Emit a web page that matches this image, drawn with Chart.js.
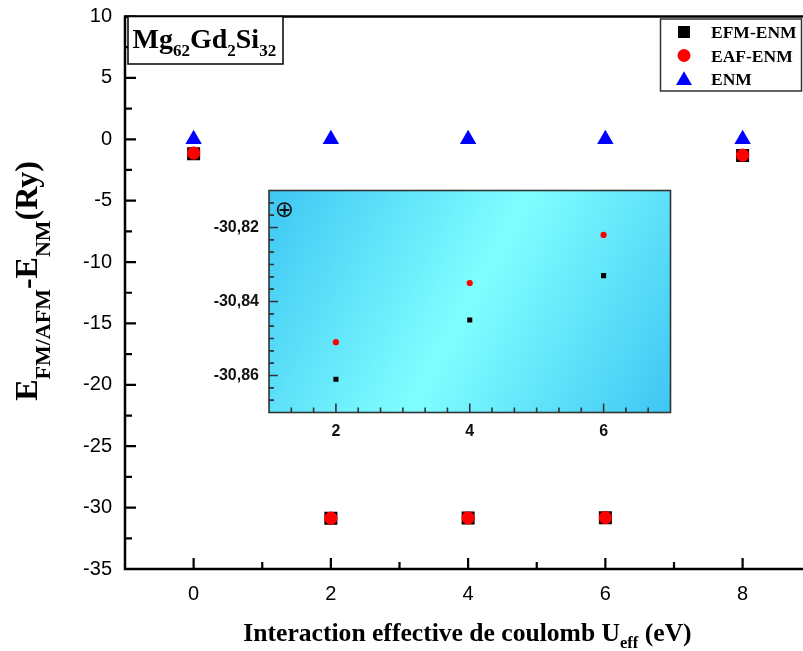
<!DOCTYPE html>
<html>
<head>
<meta charset="utf-8">
<script src="https://cdn.jsdelivr.net/npm/chart.js@4.4.1/dist/chart.umd.min.js"></script>
<style>
  html, body { margin: 0; padding: 0; background: #fff; overflow: hidden; }
  #wrap { position: relative; width: 803px; height: 651px; }
  #main { position: absolute; left: 0; top: 0; }
  #inset { position: absolute; left: 200px; top: 180px; }
</style>
</head>
<body>
<div id="wrap">
  <canvas id="main" width="803" height="651"></canvas>
  <canvas id="inset" width="490" height="280"></canvas>
</div>
<script>
// Hubbard U values (eV) and energy differences (Ry)
const uValues = [0, 2, 4, 6, 8];
const efmEnm  = [-1.17, -30.861, -30.845, -30.833, -1.33];
const eafEnm  = [-1.12, -30.851, -30.835, -30.822, -1.29];
const enm     = [0, 0, 0, 0, 0];
const seriesNames = ['EFM-ENM', 'EAF-ENM', 'ENM'];

// Main axes ticks
const mainXTicks = [0, 2, 4, 6, 8];
const mainXMinor = [1, 3, 5, 7];
const mainYTicks = [-35, -30, -25, -20, -15, -10, -5, 0, 5, 10];
const mainYMinor = [-32.5, -27.5, -22.5, -17.5, -12.5, -7.5, -2.5, 2.5, 7.5];

// Zoomed view of U = 2, 4, 6
const insetIdx = [1, 2, 3];
const insetXTicks = [2, 4, 6];
const insetYTicks = [-30.86, -30.84, -30.82];

const SERIF = '"Liberation Serif", "Times New Roman", serif';
const SANS = '"Liberation Sans", Arial, sans-serif';

function pts(xs, ys) { return xs.map((x, i) => ({ x: x, y: ys[i] })); }

// keep the plot area exactly where the layout padding puts it
function noScalePadding(s) {
  s.paddingTop = 0; s.paddingBottom = 0; s.paddingLeft = 0; s.paddingRight = 0;
}

// draws a run of text pieces (normal / subscript) starting at x, baseline y
function drawRich(ctx, parts, x, y) {
  let cx = x;
  parts.forEach(p => {
    ctx.font = p.font;
    ctx.fillText(p.t, cx, y + (p.dy || 0));
    cx += ctx.measureText(p.t).width;
  });
  return cx - x;
}
function richWidth(ctx, parts) {
  let w = 0;
  parts.forEach(p => { ctx.font = p.font; w += ctx.measureText(p.t).width; });
  return w;
}

function marker(ctx, style, x, y, r, color) {
  ctx.save();
  ctx.fillStyle = color;
  ctx.beginPath();
  if (style === 'rect') {
    const s = r * Math.SQRT1_2;
    ctx.rect(x - s, y - s, 2 * s, 2 * s);
  } else if (style === 'circle') {
    ctx.arc(x, y, r, 0, Math.PI * 2);
  } else {
    ctx.moveTo(x, y - r);
    ctx.lineTo(x + r * Math.sin(Math.PI * 2 / 3), y - r * Math.cos(Math.PI * 2 / 3));
    ctx.lineTo(x + r * Math.sin(Math.PI * 4 / 3), y - r * Math.cos(Math.PI * 4 / 3));
    ctx.closePath();
  }
  ctx.fill();
  ctx.restore();
}

// ---------- main chart ----------
const mainFrame = {
  id: 'mainFrame',
  beforeDatasetsDraw(chart) {
    const { ctx, chartArea: a, scales: { x, y } } = chart;
    ctx.save();
    ctx.strokeStyle = '#000';
    ctx.lineWidth = 2.5;
    ctx.lineCap = 'butt';
    ctx.beginPath();
    ctx.moveTo(a.right + 2, a.top);
    ctx.lineTo(a.left, a.top);
    ctx.lineTo(a.left, a.bottom);
    ctx.lineTo(a.right + 2, a.bottom);
    ctx.stroke();
    ctx.lineWidth = 2.2;
    ctx.beginPath();
    mainXTicks.forEach(v => { const px = x.getPixelForValue(v); ctx.moveTo(px, a.bottom); ctx.lineTo(px, a.bottom - 11); });
    mainXMinor.forEach(v => { const px = x.getPixelForValue(v); ctx.moveTo(px, a.bottom); ctx.lineTo(px, a.bottom - 7); });
    mainYTicks.forEach(v => { const py = y.getPixelForValue(v); ctx.moveTo(a.left, py); ctx.lineTo(a.left + 11, py); });
    mainYMinor.forEach(v => { const py = y.getPixelForValue(v); ctx.moveTo(a.left, py); ctx.lineTo(a.left + 7, py); });
    ctx.stroke();
    ctx.restore();
  },
  afterDraw(chart) {
    const { ctx } = chart;
    ctx.save();
    ctx.fillStyle = '#000';
    ctx.textBaseline = 'alphabetic';
    ctx.textAlign = 'left';

    // x axis title
    const xt = [
      { t: 'Interaction effective de coulomb U', font: 'bold 25.6px ' + SERIF },
      { t: 'eff', font: 'bold 16.5px ' + SERIF, dy: 7 },
      { t: ' (eV)', font: 'bold 25.6px ' + SERIF }
    ];
    const xw = richWidth(ctx, xt);
    drawRich(ctx, xt, 467.5 - xw / 2, 641);

    // y axis title
    const yt = [
      { t: 'E', font: 'bold 32px ' + SERIF },
      { t: 'FM/AFM', font: 'bold 22px ' + SERIF, dy: 13 },
      { t: '-E', font: 'bold 32px ' + SERIF },
      { t: 'NM', font: 'bold 22px ' + SERIF, dy: 13 },
      { t: '(Ry)', font: 'bold 32px ' + SERIF }
    ];
    const yw = richWidth(ctx, yt);
    ctx.save();
    ctx.translate(37, 281);
    ctx.rotate(-Math.PI / 2);
    drawRich(ctx, yt, -yw / 2, 0);
    ctx.restore();

    // compound label box
    ctx.lineWidth = 1.5;
    ctx.strokeStyle = '#000';
    ctx.fillStyle = '#fff';
    ctx.fillRect(128, 16.5, 155, 47.5);
    ctx.strokeRect(128, 16.5, 155, 47.5);
    ctx.fillStyle = '#000';
    drawRich(ctx, [
      { t: 'Mg', font: 'bold 28px ' + SERIF },
      { t: '62', font: 'bold 17px ' + SERIF, dy: 8 },
      { t: 'Gd', font: 'bold 28px ' + SERIF },
      { t: '2', font: 'bold 17px ' + SERIF, dy: 8 },
      { t: 'Si', font: 'bold 28px ' + SERIF },
      { t: '32', font: 'bold 17px ' + SERIF, dy: 8 }
    ], 132.5, 48);

    // legend
    ctx.fillStyle = '#fff';
    ctx.fillRect(660.5, 19, 141, 72);
    ctx.strokeStyle = '#333';
    ctx.strokeRect(660.5, 19, 141, 72);
    const rows = [32, 55.5, 79];
    chart.data.datasets.forEach((ds, i) => {
      const r = ds.legendRadius;
      marker(ctx, ds.pointStyle, 684, rows[i] + (ds.pointStyle === 'triangle' ? 1.5 : 0), r, ds.backgroundColor);
      ctx.fillStyle = '#000';
      ctx.font = 'bold 17.5px ' + SERIF;
      ctx.fillText(ds.label, 711, rows[i] + 6);
    });
    ctx.restore();
  }
};

const mainChart = new Chart(document.getElementById('main'), {
  type: 'scatter',
  data: {
    datasets: [
      { label: seriesNames[0], data: pts(uValues, efmEnm), pointStyle: 'rect', pointRadius: 9.2, legendRadius: 8.5,
        backgroundColor: '#000000', borderColor: '#000000', borderWidth: 0, order: 2 },
      { label: seriesNames[1], data: pts(uValues, eafEnm), pointStyle: 'circle', pointRadius: 6.6, legendRadius: 6.5,
        backgroundColor: '#ff0000', borderColor: '#ff0000', borderWidth: 0, order: 1 },
      { label: seriesNames[2], data: pts(uValues, enm), pointStyle: 'triangle', pointRadius: 9.5, legendRadius: 9.2,
        backgroundColor: '#0000ff', borderColor: '#0000ff', borderWidth: 0, order: 0 }
    ]
  },
  options: {
    responsive: false,
    animation: false,
    devicePixelRatio: 1,
    events: [],
    layout: { autoPadding: false, padding: { top: 16.5, right: 0, bottom: 0, left: 0 } },
    plugins: { legend: { display: false }, tooltip: { enabled: false } },
    scales: {
      x: {
        type: 'linear', min: -1, max: 8.88,
        grid: { display: false, drawTicks: false },
        border: { display: false },
        afterBuildTicks: s => { s.ticks = mainXTicks.map(v => ({ value: v })); },
        afterFit: s => { s.height = 82; noScalePadding(s); },
        ticks: { padding: 13, color: '#000', autoSkip: false, maxRotation: 0,
                 font: { family: SANS, size: 20 } }
      },
      y: {
        type: 'linear', min: -35, max: 10,
        grid: { display: false, drawTicks: false },
        border: { display: false },
        afterBuildTicks: s => { s.ticks = mainYTicks.map(v => ({ value: v })); },
        afterFit: s => { s.width = 125; noScalePadding(s); },
        ticks: { padding: 13, color: '#000', autoSkip: false,
                 font: { family: SANS, size: 20 } }
      }
    }
  },
  plugins: [mainFrame]
});

// ---------- inset chart ----------
const insetFrame = {
  id: 'insetFrame',
  beforeDatasetsDraw(chart) {
    const { ctx, chartArea: a, scales: { x, y } } = chart;
    ctx.save();
    const g = ctx.createLinearGradient(a.left, a.top, a.right, a.bottom);
    g.addColorStop(0, '#3ec6f4');
    g.addColorStop(0.5, '#80ffff');
    g.addColorStop(1, '#3ec6f4');
    ctx.fillStyle = g;
    ctx.fillRect(a.left, a.top, a.right - a.left, a.bottom - a.top);

    ctx.strokeStyle = '#333';
    ctx.lineWidth = 1.6;
    ctx.strokeRect(a.left, a.top, a.right - a.left, a.bottom - a.top);

    ctx.beginPath();
    for (let v = 1 + 1 / 3; v < 7 - 1e-6; v += 1 / 3) {
      const px = x.getPixelForValue(v);
      const major = insetXTicks.some(t => Math.abs(t - v) < 1e-6);
      ctx.moveTo(px, a.bottom); ctx.lineTo(px, a.bottom - (major ? 9 : 5));
    }
    for (let k = 1; k < 18; k++) {
      const v = -30.87 + k * (0.02 / 6);
      const py = y.getPixelForValue(v);
      const major = insetYTicks.some(t => Math.abs(t - v) < 1e-6);
      ctx.moveTo(a.left, py); ctx.lineTo(a.left + (major ? 9 : 5), py);
    }
    ctx.stroke();

    ctx.fillStyle = '#111';
    ctx.font = '23px "DejaVu Sans", sans-serif';
    ctx.textAlign = 'center';
    ctx.textBaseline = 'middle';
    ctx.fillText('\u2295', a.left + 15.5, a.top + 21);
    ctx.restore();
  }
};

const insetChart = new Chart(document.getElementById('inset'), {
  type: 'scatter',
  data: {
    datasets: [
      { label: seriesNames[0], data: pts(insetIdx.map(i => uValues[i]), insetIdx.map(i => efmEnm[i])),
        pointStyle: 'rect', pointRadius: 3.6, backgroundColor: '#000000', borderWidth: 0, order: 2 },
      { label: seriesNames[1], data: pts(insetIdx.map(i => uValues[i]), insetIdx.map(i => eafEnm[i])),
        pointStyle: 'circle', pointRadius: 3.1, backgroundColor: '#ff0000', borderWidth: 0, order: 1 }
    ]
  },
  options: {
    responsive: false,
    animation: false,
    devicePixelRatio: 1,
    events: [],
    layout: { autoPadding: false, padding: { top: 10.5, right: 19.5, bottom: 0, left: 0 } },
    plugins: { legend: { display: false }, tooltip: { enabled: false } },
    scales: {
      x: {
        type: 'linear', min: 1, max: 7,
        grid: { display: false, drawTicks: false },
        border: { display: false },
        afterBuildTicks: s => { s.ticks = insetXTicks.map(v => ({ value: v })); },
        afterFit: s => { s.height = 47.5; noScalePadding(s); },
        ticks: { padding: 9, color: '#111', autoSkip: false, maxRotation: 0,
                 font: { family: SANS, size: 16, weight: 'bold' } }
      },
      y: {
        type: 'linear', min: -30.87, max: -30.81,
        grid: { display: false, drawTicks: false },
        border: { display: false },
        afterBuildTicks: s => { s.ticks = insetYTicks.map(v => ({ value: v })); },
        afterFit: s => { s.width = 69; noScalePadding(s); },
        ticks: { padding: 10, color: '#111', autoSkip: false,
                 font: { family: SANS, size: 16, weight: 'bold' },
                 callback: v => v.toFixed(2).replace('.', ',') }
      }
    }
  },
  plugins: [insetFrame]
});
</script>
</body>
</html>
